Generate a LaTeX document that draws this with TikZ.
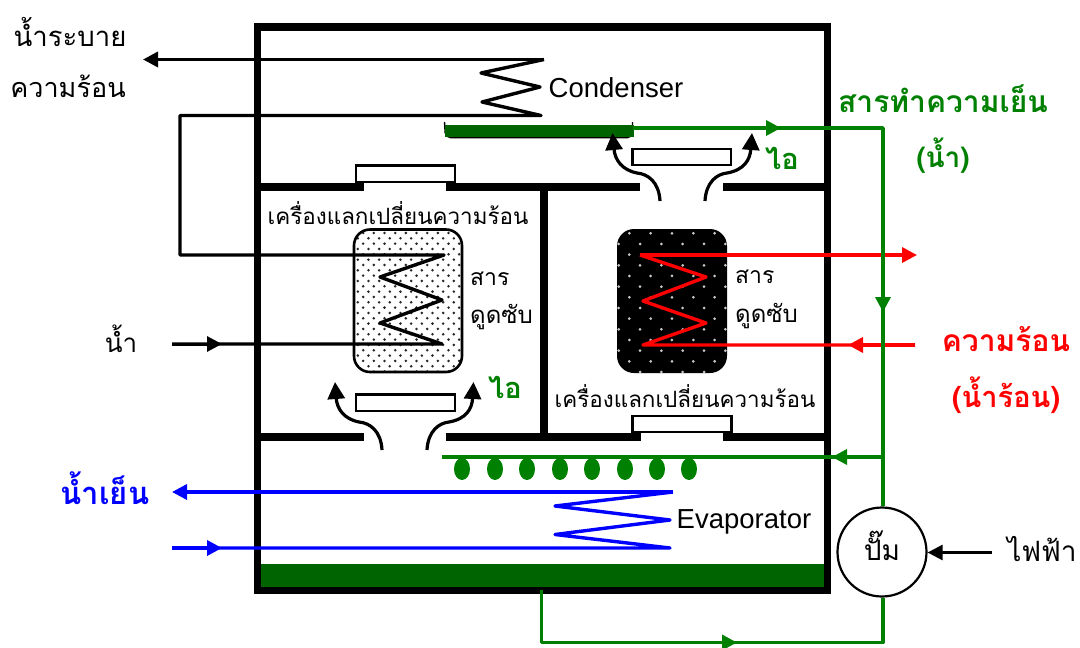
\documentclass[tikz,border=0pt]{standalone}
\usepackage{fontspec}
\setmainfont{Liberation Sans}
\newfontfamily\thaifont[Script=Thai]{Loma}
\usetikzlibrary{arrows.meta}
\definecolor{lgreen}{RGB}{0,128,0}
\definecolor{dgreen}{RGB}{0,100,0}
\tikzset{
  x=1pt,y=-1pt,
  wall/.style={line width=7.5pt},
  hx/.style={draw=black,line width=2.4pt,fill=white},
  pipe/.style={line width=3.4pt,line join=round},
  thin pipe/.style={line width=3pt},
  tip/.style={-{Triangle[length=15pt,width=15pt]}},
  vapour/.style={line width=3.2pt,line cap=butt,-{Triangle[length=17pt,width=17pt]}},
  th/.style={font=\thaifont\fontsize{#1}{#1}\selectfont,inner sep=0pt},
  thb/.style={font=\thaifont\bfseries\fontsize{#1}{#1}\selectfont,inner sep=0pt},
  en/.style={font=\fontsize{27.5}{30}\selectfont,inner sep=0pt},
}
\begin{document}
\begin{tikzpicture}
\useasboundingbox (0,0) rectangle (1080,648);
% tank bar
\fill[dgreen] (260,564) rectangle (824,588);
% frame
\draw[wall] (257.5,27) rectangle (827.5,590.5);
% walls
\coordinate (wtl0) at (257,187); \coordinate (wtl1) at (364,187);
\coordinate (wtm0) at (446,187); \coordinate (wtm1) at (640,187);
\coordinate (wtr0) at (723,187); \coordinate (wtr1) at (828,187);
\coordinate (wbl0) at (257,437); \coordinate (wbl1) at (364,437);
\coordinate (wbm0) at (446,437); \coordinate (wbm1) at (640.5,437);
\coordinate (wbr0) at (723,437); \coordinate (wbr1) at (828,437);
\coordinate (div0) at (544,187); \coordinate (div1) at (544,437);
\draw[wall] (wtl0)--(wtl1) (wtm0)--(wtm1) (wtr0)--(wtr1);
\draw[wall] (wbl0)--(wbl1) (wbm0)--(wbm1) (wbr0)--(wbr1);
\draw[wall] (div0)--(div1);
% small heat-exchange plates
\draw[hx] (356,165.5) rectangle (455,182);
\draw[hx] (632.5,149) rectangle (731,165);
\draw[hx] (356,394.5) rectangle (455,411);
\draw[hx] (632.5,416) rectangle (731.5,432);
% adsorbent beds
\begin{scope}
  \clip[rounded corners=16pt] (354,229.5) rectangle (462,372);
  \fill[white] (350,225) rectangle (470,380);
  \foreach \r in {0,...,27}{
    \pgfmathsetmacro{\yy}{233+\r*5.33}
    \pgfmathsetmacro{\xo}{mod(\r,2)==0 ? 352.5 : 357.8}
    \foreach \c in {0,...,10}{
      \fill[black!85] ({\xo+\c*10.67},\yy) circle (1.4pt);
    }
  }
\end{scope}
\draw[line width=2.6pt,rounded corners=16pt] (354,229.5) rectangle (462,372);
\begin{scope}
  \clip[rounded corners=17pt] (617,229) rectangle (727,373);
  \fill[black] (610,225) rectangle (730,380);
  \foreach \r in {0,...,13}{
    \pgfmathsetmacro{\yy}{233.3+\r*10.67}
    \pgfmathsetmacro{\xo}{mod(\r,2)==0 ? 608 : 618.7}
    \foreach \c in {0,...,5}{
      \fill[black!22] ({\xo+\c*21.33},\yy) circle (1.5pt);
    }
  }
\end{scope}
% condenser tray
\draw[black,line width=1.4pt,rounded corners=5pt] (444.5,122) -- (445.5,137.6) -- (632.5,137.6) -- (632.5,122);
\fill[dgreen] (444.5,124.5) rectangle (634,136.5);
% vapour arrows
\coordinate (vts1) at (660,201); \coordinate (vte1) at (612.5,133);
\coordinate (vts2) at (705,201); \coordinate (vte2) at (752,133);
\coordinate (vbs1) at (382,450); \coordinate (vbe1) at (335,382);
\coordinate (vbs2) at (427,450); \coordinate (vbe2) at (473.5,382);
\draw[vapour] (vts1) .. controls (659,182) and (648,174) .. (637,173) .. controls (622,170) and (615,160) .. (vte1);
\draw[vapour] (vts2) .. controls (706,182) and (717,174) .. (727,173) .. controls (744,170) and (750,160) .. (vte2);
\draw[vapour] (vbs1) .. controls (381,431) and (370,423) .. (359,422) .. controls (344,419) and (337,409) .. (vbe1);
\draw[vapour] (vbs2) .. controls (428,431) and (439,423) .. (449,422) .. controls (466,419) and (472,409) .. (vbe2);
% black water circuit
\coordinate (hotout) at (143,59.5);
\coordinate (c0) at (544,59.5); \coordinate (c1) at (481,73); \coordinate (c2) at (540,87);
\coordinate (c3) at (482,102); \coordinate (c4) at (541,115.5);
\coordinate (lt) at (180,115.5); \coordinate (lb) at (180,255);
\coordinate (a0) at (444,255); \coordinate (a1) at (380,277); \coordinate (a2) at (442,300);
\coordinate (a3) at (380,323); \coordinate (a4) at (442,344);
\coordinate (win) at (172,344); \coordinate (wmid) at (222,344);
\draw[pipe,tip] (c0) -- (hotout);
\draw[pipe] (c0) -- (c1) -- (c2) -- (c3) -- (c4) -- (lt) -- (lb) -- (a0) -- (a1) -- (a2) -- (a3) -- (a4) -- (win);
\draw[thin pipe,tip] (win) -- (wmid);
% red circuit
\coordinate (r0) at (640,255); \coordinate (r1) at (706,277); \coordinate (r2) at (643,301);
\coordinate (r3) at (706,323); \coordinate (r4) at (643,345);
\coordinate (rout) at (917,255); \coordinate (rin) at (915,345); \coordinate (rmid) at (848,345);
\draw[pipe,red,tip] (r0) -- (rout);
\draw[pipe,red] (r0) -- (r1) -- (r2) -- (r3) -- (r4) -- (rin);
\draw[pipe,red,tip] (rin) -- (rmid);
% blue circuit
\coordinate (b0) at (673,492); \coordinate (b1) at (555,506); \coordinate (b2) at (670,520);
\coordinate (b3) at (555,534.5); \coordinate (b4) at (670,548);
\coordinate (cwout) at (172,492); \coordinate (cwin) at (172,548); \coordinate (cwmid) at (222,548);
\draw[pipe,blue,tip] (b0) -- (cwout);
\draw[pipe,blue] (b0) -- (b1) -- (b2) -- (b3) -- (b4) -- (cwin);
\draw[pipe,blue,tip] (cwin) -- (cwmid);
% pump
\node[circle,draw,line width=2.2pt,minimum size=89pt,inner sep=0pt,fill=white] (pump) at (882,552) {};
% green refrigerant circuit
\coordinate (g0) at (633,128); \coordinate (g0m) at (781,128); \coordinate (g1) at (883,128);
\coordinate (gm) at (883,312); \coordinate (gb) at (883,457); \coordinate (gbm) at (832,457);
\coordinate (ge) at (442,457); \coordinate (t0) at (541.5,590); \coordinate (t1) at (541.5,642.5);
\coordinate (t2) at (883,642.5); \coordinate (tm) at (737,642.5);
\draw[pipe,lgreen] (g0) -- (g1) -- (pump.north -| g1);
\draw[pipe,lgreen] (gb) -- (ge);
\draw[pipe,lgreen] (t0) -- (t1) -- (t2) -- (pump.south -| t2);
\draw[pipe,lgreen,tip] (g0) -- (g0m);
\draw[pipe,lgreen,tip] (g1) -- (gm);
\draw[pipe,lgreen,tip] (gb) -- (gbm);
\draw[pipe,lgreen,tip] (t1) -- (tm);
% drops
\foreach \x in {462,495,527,560,592,625,657,689}{
  \fill[lgreen] (\x,469) ellipse (8pt and 11pt);
}
% power
\coordinate (elec) at (992,552.5);
\draw[line width=2.6pt,tip] (elec) -- (pump.east |- elec);
% texts
\node[th=27.5] (t1a) at (70,32) {น้ำระบาย};
\node[th=27] (t1b) at (68,86) {ความร้อน};
\node[en] (cond) at (616,88) {Condenser};
\node[thb=30] (t2a) at (943,99) {\textcolor{lgreen}{สารทำความเย็น}};
\node[thb=28] (t2b) at (943,156) {\textcolor{lgreen}{(น้ำ)}};
\node[thb=29] (v1) at (782,158) {\textcolor{lgreen}{ไอ}};
\node[thb=29] (v2) at (505,387) {\textcolor{lgreen}{ไอ}};
\node[th=22.4] (h1) at (398,213) {เครื่องแลกเปลี่ยนความร้อน};
\node[th=22.4] (h2) at (685,396) {เครื่องแลกเปลี่ยนความร้อน};
\node[th=23,anchor=west] (s1) at (470,279) {สาร};
\node[th=24,anchor=west] (s2) at (470,317) {ดูดซับ};
\node[th=23,anchor=west] (s3) at (735,277) {สาร};
\node[th=24,anchor=west] (s4) at (735,316) {ดูดซับ};
\node[th=26] (w) at (121,339) {น้ำ};
\node[thb=30] (k1) at (1006,339) {\textcolor{red}{ความร้อน}};
\node[thb=29] (k2) at (1006,395) {\textcolor{red}{(น้ำร้อน)}};
\node[thb=31] (cw) at (105,488) {\textcolor{blue}{น้ำเย็น}};
\node[en] (evap) at (744,522) {Evaporator};
\node[th=28] (pl) at (882,546) {ปั๊ม};
\node[th=28] (el) at (1042,549) {ไฟฟ้า};
\end{tikzpicture}
\end{document}
